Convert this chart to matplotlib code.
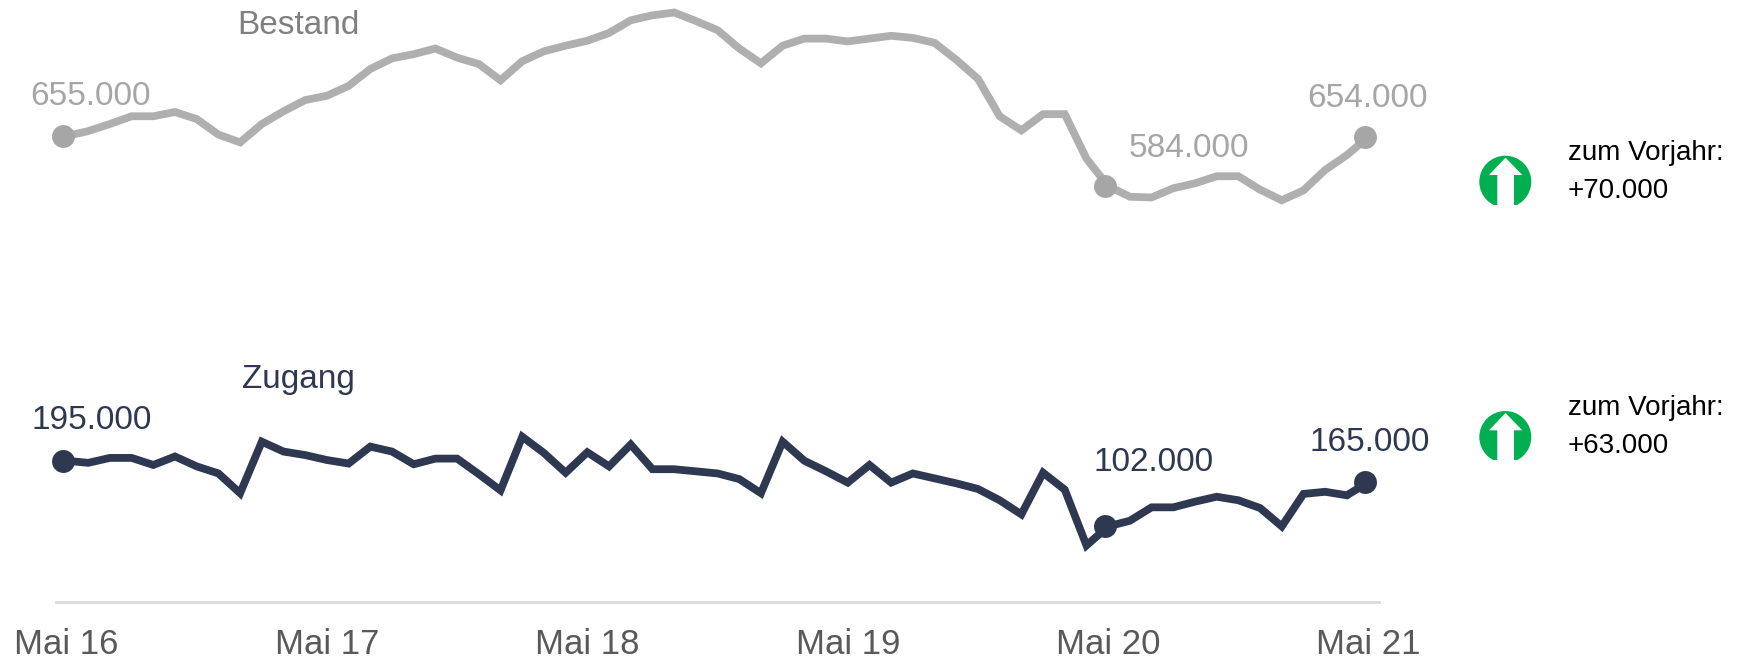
import matplotlib
matplotlib.use('Agg')
import matplotlib.pyplot as plt
from matplotlib.patches import Circle, Polygon, Rectangle
from matplotlib.transforms import ScaledTranslation

plt.rcParams['font.family'] = ['Liberation Sans', 'DejaVu Sans']

# monthly values in thousands, Mai 16 to Mai 21
bestand = [655, 662, 672, 683, 683, 689, 679, 657, 646, 672, 690, 706, 712,
           726, 750, 765, 771, 779, 766, 757, 734, 761, 775, 783, 790, 801,
           819, 826, 830, 818, 805, 779, 758, 783, 793, 793, 789, 793, 797,
           794, 787, 763, 736, 683, 663, 686, 686, 623, 584, 569, 568, 581,
           588, 598, 598, 579, 564, 578, 607, 628, 654]
zugang = [195, 192, 199, 199, 189, 201, 187, 177, 149, 222, 208, 203, 196,
          191, 215, 208, 190, 198, 198, 176, 153, 229, 206, 178, 207, 187,
          218, 183, 183, 180, 177, 169, 149, 222, 195, 180, 164, 189, 164,
          177, 170, 163, 155, 139, 119, 178, 154, 75, 102, 110, 129, 129,
          137, 144, 139, 128, 102, 148, 151, 146, 165]
tick_pos = [0, 12, 24, 36, 48, 60]
tick_labels = ['Mai 16', 'Mai 17', 'Mai 18', 'Mai 19', 'Mai 20', 'Mai 21']
marked = [0, 48, 60]
vorjahr = ['+70.000', '+63.000']

W, H = 1748, 659
grey = '#AFAFAF'
grey_dot = '#A6A6A6'
navy = '#2E3850'

fig = plt.figure(figsize=(W / 100, H / 100), dpi=100)
ax = fig.add_axes([56 / W, (H - 601.7) / H, (1379 - 56) / W, 601.7 / H])
ax.set_xlim(-0.484, 60.48)
ax.set_ylim(-4.7, 847.7)

x = list(range(len(bestand)))
ax.plot(x, bestand, color=grey, lw=5.6, solid_joinstyle='miter', clip_on=False)
ax.plot(x, zugang, color=navy, lw=5.6, solid_joinstyle='miter', clip_on=False)

# the dots sit a few pixels left of the line's own points
dot_shift = ax.transData + ScaledTranslation(-3.5 / 100, 0, fig.dpi_scale_trans)
ax.plot(marked, [bestand[i] for i in marked], 'o', color=grey_dot, ms=16.5, mew=0,
        clip_on=False, transform=dot_shift)
ax.plot(marked, [zugang[i] for i in marked], 'o', color=navy, ms=16.5, mew=0,
        clip_on=False, transform=dot_shift)


# value labels, offsets in pixels from the point
def label(i, series, dx, dy, color):
    ax.annotate(f'{series[i]}.000', (i, series[i]), xytext=(dx, dy),
                textcoords='offset pixels', ha='center', va='baseline',
                fontsize=24, color=color, annotation_clip=False)


label(0, bestand, 24, 31, grey_dot)
label(48, bestand, 81, 29, grey_dot)
label(60, bestand, -1, 30, grey_dot)
label(0, zugang, 25, 32, navy)
label(48, zugang, 45, 55, navy)
label(60, zugang, 1, 31, navy)

ax.text(10.71, 800, 'Bestand', ha='center', va='baseline', fontsize=24, color='#7F7F7F')
ax.text(10.71, 298.5, 'Zugang', ha='center', va='baseline', fontsize=24, color=navy)

ax.set_xticks(tick_pos)
ax.set_xticklabels(tick_labels, fontsize=25, color='#595959')
ax.tick_params(axis='x', length=0, pad=19)
ax.set_yticks([])
for s in ['top', 'left', 'right']:
    ax.spines[s].set_visible(False)
ax.spines['bottom'].set_color('#D9D9D9')
ax.spines['bottom'].set_linewidth(2)
ax.patch.set_visible(False)

# right hand side: arrows and change to previous year, in pixel coordinates
side = fig.add_axes([0, 0, 1, 1])
side.set_xlim(0, W)
side.set_ylim(H, 0)
side.axis('off')

for text, cy, ty in zip(vorjahr, [181.7, 437], [160.5, 415]):
    side.add_patch(Circle((1505.3, cy), 26, color='#00B050', lw=0))
    # icon is cut off flat at the bottom
    side.add_patch(Rectangle((1475, cy + 23), 62, 6, color='white', lw=0))
    side.add_patch(Polygon([(1505.5, cy - 24), (1522.3, cy - 6.7), (1514, cy - 6.7), (1514, cy + 24),
                            (1497.3, cy + 24), (1497.3, cy - 6.7), (1489, cy - 6.7)],
                           closed=True, color='white', lw=0))
    side.text(1568, ty, 'zum Vorjahr:', fontsize=20, color='black', va='baseline')
    side.text(1568, ty + 37.8, text, fontsize=20, color='black', va='baseline')

fig.savefig('out.png', dpi=100)
